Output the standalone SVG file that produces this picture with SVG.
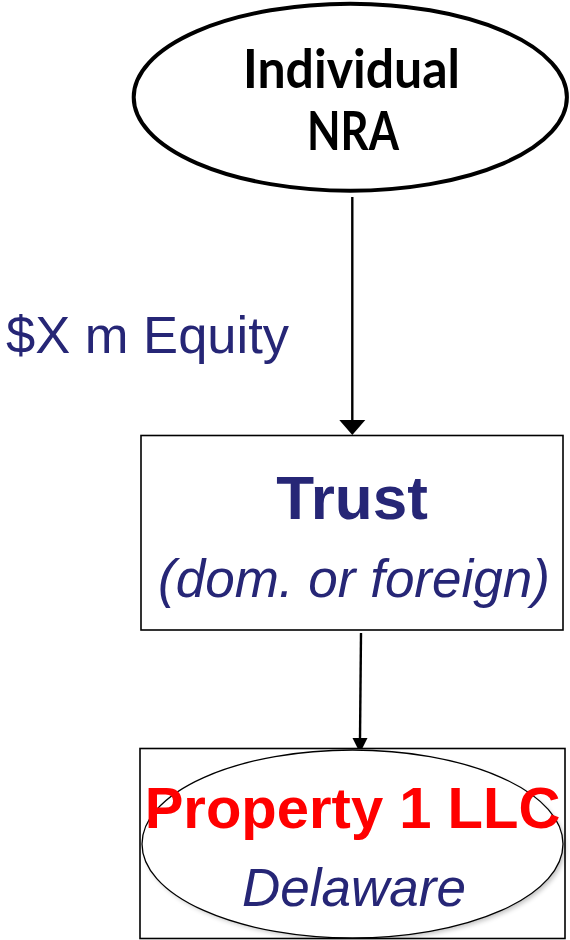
<svg xmlns="http://www.w3.org/2000/svg" width="570" height="940" viewBox="0 0 570 940">
<style>
.navy{fill:#262676;font-family:"Liberation Sans",Arial,sans-serif}
.calibri{font-family:Lato,"Open Sans",sans-serif;font-weight:bold;fill:#000}
.conn{stroke:#000;stroke-width:2.4;fill:none}
</style>
<defs>
<filter id="sh" x="-10%" y="-10%" width="120%" height="130%">
<feGaussianBlur stdDeviation="2.5"/>
</filter>
</defs>
<rect width="570" height="940" fill="#fff"/>
<g id="connectors">
<line class="conn" x1="352.3" y1="197" x2="352.3" y2="421"/>
<path d="M339.3,420 L365.3,420 L352.3,435 Z" fill="#000"/>
<line class="conn" x1="361" y1="633" x2="360" y2="739"/>
<path d="M352.5,738 L367.5,738 L360,753 Z" fill="#000"/>
</g>
<g id="individual">
<ellipse cx="350.3" cy="97.2" rx="216.6" ry="93.5" fill="#fff" stroke="#000" stroke-width="4"/>
<text class="calibri" x="243" y="88" font-size="53" textLength="217" lengthAdjust="spacingAndGlyphs">Individual</text>
<text class="calibri" x="307" y="150" font-size="53" textLength="92" lengthAdjust="spacingAndGlyphs">NRA</text>
</g>
<g id="equity-label">
<text class="navy" x="6" y="353" font-size="52.5">$X m Equity</text>
</g>
<g id="trust">
<rect x="141" y="435.5" width="422" height="194.5" fill="#fff" stroke="#000" stroke-width="1.6"/>
<text class="navy" x="352" y="519" font-size="62" font-weight="bold" text-anchor="middle">Trust</text>
<text class="navy" x="354" y="597" font-size="53" font-style="italic" text-anchor="middle">(dom. or foreign)</text>
</g>
<g id="property">
<rect x="140" y="748.5" width="425" height="190" fill="#fff" stroke="#000" stroke-width="1.6"/>
<ellipse cx="355" cy="847" rx="210" ry="93" fill="#000" opacity="0.25" filter="url(#sh)"/>
<ellipse cx="352.5" cy="844" rx="210.5" ry="94" fill="#fff" stroke="#000" stroke-width="1.3"/>
<text x="352.5" y="828" font-size="58" font-weight="bold" fill="#ff0000" font-family="'Liberation Sans',Arial,sans-serif" text-anchor="middle">Property 1 LLC</text>
<text class="navy" x="354" y="906" font-size="53" font-style="italic" text-anchor="middle">Delaware</text>
</g>
</svg>
